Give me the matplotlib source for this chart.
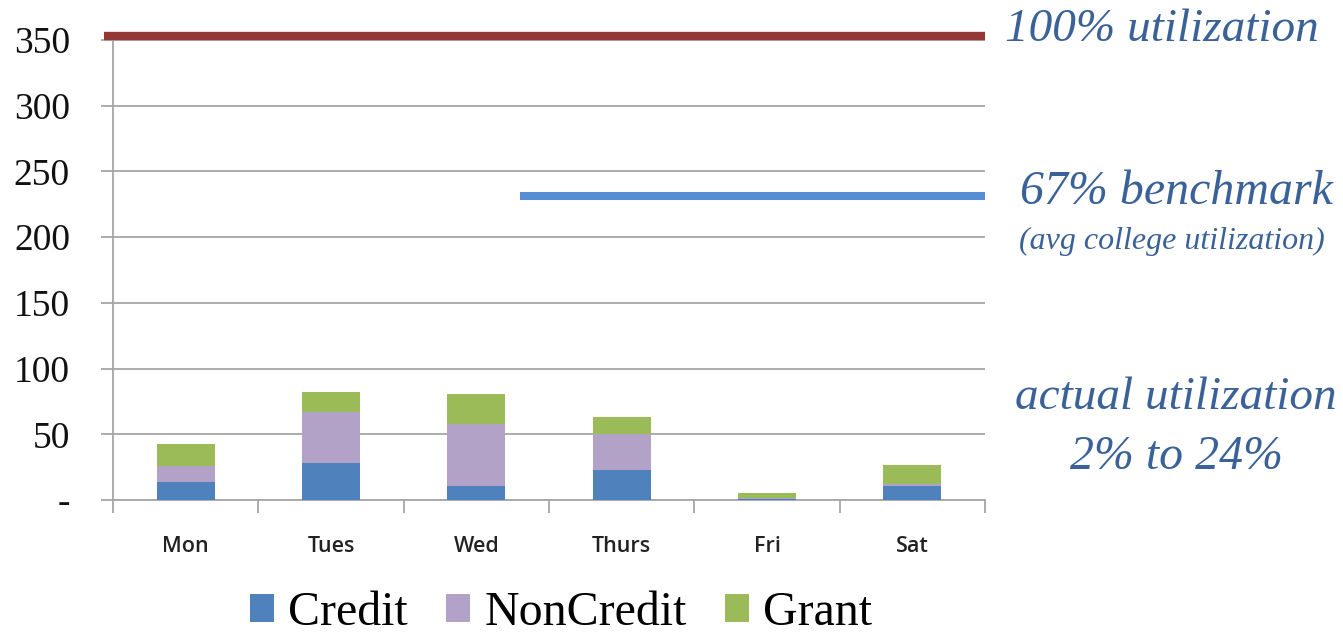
import matplotlib.pyplot as plt
import numpy as np

days = ["Mon", "Tues", "Wed", "Thurs", "Fri", "Sat"]
credit = [13.5, 28, 11, 22.5, 1, 11]
noncredit = [12, 39, 47, 28, 0.5, 1]
grant = [17, 15, 23, 13, 3.5, 15]

capacity = 353        # 100% utilization line
benchmark = 231       # 67% benchmark line
benchmark_start = 2.3  # benchmark line starts part way through Wed/Thurs

yticks = [0, 50, 100, 150, 200, 250, 300, 350]
ytick_labels = ["-", "50", "100", "150", "200", "250", "300", "350"]

c_credit = "#4F81BD"
c_noncredit = "#B3A2C7"
c_grant = "#9BBB59"
c_text = "#3A6298"

plt.rcParams['font.family'] = ['Liberation Serif', 'DejaVu Serif']

fig = plt.figure(figsize=(13.43, 6.34), dpi=100)
ax = fig.add_axes([113 / 1343, 134 / 634, (985 - 113) / 1343, 460 / 634])

x = np.arange(len(days))
w = 0.4
b1 = ax.bar(x, credit, w, color=c_credit, label="Credit", zorder=3)
b2 = ax.bar(x, noncredit, w, bottom=credit, color=c_noncredit, label="NonCredit", zorder=3)
bottom2 = np.array(credit) + np.array(noncredit)
b3 = ax.bar(x, grant, w, bottom=bottom2, color=c_grant, label="Grant", zorder=3)

# reference lines
ax.plot([-0.56, len(days) - 0.5], [capacity, capacity], color="#953735", lw=6,
        solid_capstyle="butt", clip_on=False, zorder=4)
ax.plot([benchmark_start, len(days) - 0.5], [benchmark, benchmark], color="#558ED5", lw=5.8,
        solid_capstyle="butt", clip_on=False, zorder=4)

ax.set_xlim(-0.5, len(days) - 0.5)
ax.set_ylim(0, 350)
ax.set_yticks(yticks)
ax.set_yticklabels(ytick_labels, fontsize=27, color="#111111")
ax.yaxis.grid(True, color="#A6A6A6", lw=1.3, zorder=0)
ax.tick_params(axis="y", length=9, width=1.3, color="#A6A6A6", pad=22)

ax.set_xticks(x)
ax.set_xticklabels(days, fontsize=15.5, family="Open Sans", fontweight="semibold", color="#222222")
ax.set_xticks(np.arange(-0.5, len(days)), minor=True)
ax.tick_params(axis="x", which="major", length=0, pad=26)
ax.tick_params(axis="x", which="minor", length=9, width=1.3, color="#A6A6A6")

for s in ["top", "right"]:
    ax.spines[s].set_visible(False)
for s in ["left", "bottom"]:
    ax.spines[s].set_color("#A6A6A6")
    ax.spines[s].set_linewidth(1.3)

fig.legend(handles=[b1, b2, b3], loc="center", bbox_to_anchor=(561 / 1343, 1 - 613 / 634),
           ncol=3, frameon=False, fontsize=34.5, handlelength=0.5, handleheight=0.5,
           handletextpad=0.3, columnspacing=0.8, borderpad=0)

fig.text(1162 / 1343, 1 - 30 / 634, "100% utilization", style="italic", fontsize=34,
         color=c_text, ha="center", va="center")
fig.text(1176 / 1343, 1 - 192 / 634, "67% benchmark", style="italic", fontsize=34.5,
         color=c_text, ha="center", va="center")
fig.text(1172 / 1343, 1 - 241 / 634, "(avg college utilization)", style="italic", fontsize=23,
         color=c_text, ha="center", va="center")
fig.text(1176 / 1343, 1 - 398 / 634, "actual utilization", style="italic", fontsize=34,
         color=c_text, ha="center", va="center")
fig.text(1177 / 1343, 1 - 457 / 634, "2% to 24%", style="italic", fontsize=34.5,
         color=c_text, ha="center", va="center")

fig.savefig("out.png", dpi=100)
